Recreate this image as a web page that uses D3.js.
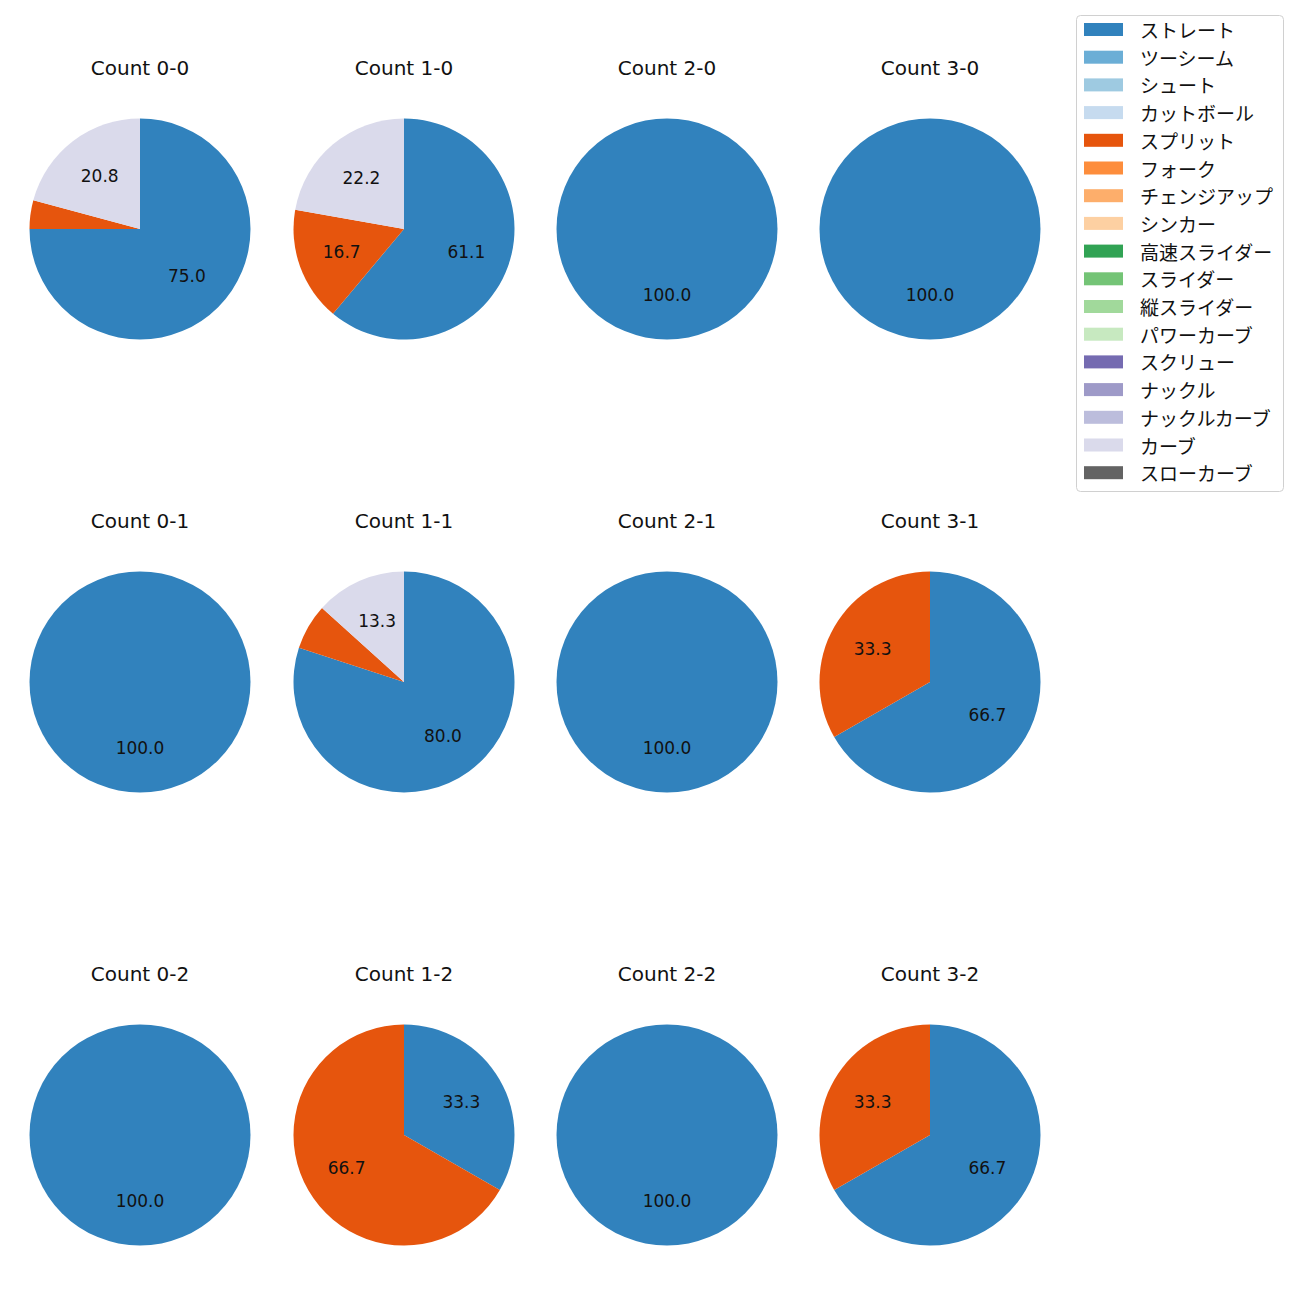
<!DOCTYPE html>
<html>
<head>
<meta charset="utf-8">
<script src="https://cdn.jsdelivr.net/npm/d3@7"></script>
<style>
  html, body { margin: 0; padding: 0; background: #fff; }
  svg { display: block; font-family: "DejaVu Sans", "Noto Sans CJK JP", sans-serif; }
</style>
</head>
<body>
<svg id="chart" width="1300" height="1300"></svg>
<script>
// ---- data ----
const pitchTypes = ["ストレート","ツーシーム","シュート","カットボール","スプリット","フォーク","チェンジアップ","シンカー","高速スライダー","スライダー","縦スライダー","パワーカーブ","スクリュー","ナックル","ナックルカーブ","カーブ","スローカーブ"];
const pitchColors = ["#3182bd","#6baed6","#9ecae1","#c6dbef","#e6550d","#fd8d3c","#fdae6b","#fdd0a2","#31a354","#74c476","#a1d99b","#c7e9c0","#756bb1","#9e9ac8","#bcbddc","#dadaeb","#636363"];
const countLabels = ["0-0","1-0","2-0","3-0","0-1","1-1","2-1","3-1","0-2","1-2","2-2","3-2"];
// percentages per count (same order as countLabels)
const straightPct = [75.0, 61.1, 100.0, 100.0, 100.0, 80.0, 100.0, 66.7, 100.0, 33.3, 100.0, 66.7];
const splitPct    = [4.2, 16.7, 0, 0, 0, 6.7, 0, 33.3, 0, 66.7, 0, 33.3];
const curvePct    = [20.8, 22.2, 0, 0, 0, 13.3, 0, 0, 0, 0, 0, 0];

const seriesByPitch = { "ストレート": straightPct, "スプリット": splitPct, "カーブ": curvePct };

// ---- layout ----
const svg = d3.select("#chart");
const colCenters = [140, 404, 667, 930];
const rowCenters = [229, 682, 1135];
const titleOffset = -161;
const radius = 110.5;

const color = d3.scaleOrdinal().domain(pitchTypes).range(pitchColors);
const pie = d3.pie().sort(null).value(d => d.value).startAngle(0).endAngle(2 * Math.PI);
const arc = d3.arc().innerRadius(0).outerRadius(radius);
const labelArc = d3.arc().innerRadius(radius * 0.6).outerRadius(radius * 0.6);

countLabels.forEach((c, i) => {
  const col = i % 4, row = Math.floor(i / 4);
  const cx = colCenters[col], cy = rowCenters[row];
  const data = pitchTypes
    .map(p => ({ pitch: p, value: seriesByPitch[p] ? seriesByPitch[p][i] : 0 }))
    .filter(d => d.value > 0);
  const g = svg.append("g").attr("transform", `translate(${cx},${cy})`);
  const arcs = pie(data);
  g.selectAll("path").data(arcs).join("path")
    .attr("d", arc)
    .attr("fill", d => color(d.data.pitch));
  g.selectAll("text.lbl").data(arcs.filter(d => d.data.value >= 10)).join("text")
    .attr("class", "lbl")
    .attr("transform", d => `translate(${labelArc.centroid(d)})`)
    .attr("text-anchor", "middle")
    .attr("dominant-baseline", "central")
    .attr("font-size", 17)
    .attr("fill", "#111")
    .text(d => d.data.value.toFixed(1));
  svg.append("text")
    .attr("x", cx).attr("y", cy + titleOffset)
    .attr("text-anchor", "middle")
    .attr("dominant-baseline", "central")
    .attr("font-size", 20)
    .attr("fill", "#111")
    .text("Count " + c);
});

// ---- legend ----
const lg = svg.append("g").attr("transform", "translate(1076,15)");
lg.append("rect").attr("x", 0.5).attr("y", 0.5).attr("width", 207).attr("height", 476)
  .attr("rx", 4).attr("fill", "#fff").attr("stroke", "#d0d0d0");
const rowH = 27.7;
pitchTypes.forEach((p, i) => {
  const y = 14.5 + i * rowH;
  lg.append("rect").attr("x", 8).attr("y", y - 6.5).attr("width", 39).attr("height", 13)
    .attr("fill", color(p));
  lg.append("text").attr("x", 64).attr("y", y).attr("dominant-baseline", "central")
    .attr("font-family", "Noto Sans CJK JP")
    .attr("font-size", 19).attr("fill", "#111").text(p);
});
</script>
</body>
</html>
